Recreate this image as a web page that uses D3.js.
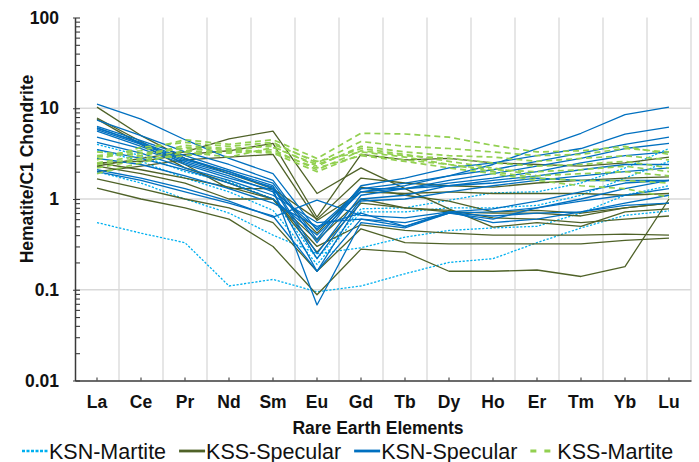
<!DOCTYPE html>
<html><head><meta charset="utf-8">
<script src="https://cdn.jsdelivr.net/npm/d3@7"></script>
<style>
html,body{margin:0;padding:0;background:#fff;}
svg{display:block;font-family:"Liberation Sans",Arial,sans-serif;}
</style></head>
<body><svg id="c" width="699" height="462"></svg>
<script>
const categories = ["La","Ce","Pr","Nd","Sm","Eu","Gd","Tb","Dy","Ho","Er","Tm","Yb","Lu"];
const yTicks = [0.01, 0.1, 1, 10, 100];
const yTickLabels = ["0.01", "0.1", "1", "10", "100"];
const seriesNames = ["KSN-Martite", "KSS-Specular", "KSN-Specular", "KSS-Martite"];

const ksnMartite = [
  [0.55,0.42,0.33,0.11,0.13,0.095,0.11,0.15,0.2,0.22,0.33,0.48,0.66,0.74],
  [4.0,3.0,2.0,1.55,1.0,0.22,0.78,0.8,0.97,1.17,1.2,1.5,2.2,3.6],
  [3.5,2.6,1.7,1.2,0.75,0.19,0.72,0.72,0.8,0.8,0.85,1.1,1.7,2.6],
  [2.0,1.5,1.0,0.7,0.4,0.25,0.29,0.38,0.45,0.48,0.5,0.7,1.1,1.4]
];
const kssSpecular = [
  [2.3,2.8,3.3,4.6,5.6,1.15,2.2,1.3,0.78,0.49,0.55,0.5,0.72,0.78],
  [2.5,2.6,3.1,3.4,4.1,0.63,3.1,2.7,2.8,2.5,2.4,2.3,2.5,2.9],
  [2.0,2.3,2.7,2.9,3.1,0.58,1.2,1.15,1.2,1.15,1.15,1.15,1.1,1.15],
  [10.3,5.0,2.8,1.9,1.3,0.6,1.7,1.5,1.4,1.35,1.5,1.6,1.7,1.75],
  [7.8,4.3,2.4,1.3,1.3,0.42,1.35,1.1,0.95,0.72,0.75,0.7,0.8,0.9],
  [7.6,4.0,2.2,1.5,1.0,0.3,0.52,0.45,0.42,0.4,0.4,0.4,0.41,0.4],
  [2.5,2.1,1.7,1.35,1.0,0.35,1.0,0.8,0.75,0.62,0.6,0.55,0.6,0.65],
  [1.67,1.3,1.0,0.8,0.55,0.16,0.47,0.33,0.32,0.32,0.32,0.32,0.35,0.37],
  [1.32,1.0,0.8,0.6,0.3,0.088,0.28,0.26,0.16,0.16,0.165,0.14,0.18,1.0],
  [2.3,1.9,1.5,1.0,1.0,0.26,0.9,0.8,0.72,0.7,0.7,0.65,0.8,0.9]
];
const ksnSpecular = [
  [11.1,7.6,4.5,2.8,1.9,0.45,1.2,1.4,1.8,2.4,3.6,5.3,8.5,10.3],
  [7.4,5.0,3.3,2.4,1.6,0.36,1.4,1.7,2.2,2.5,3.0,3.6,5.2,6.2],
  [6.3,4.4,3.0,2.1,1.5,0.33,1.3,1.5,1.8,2.1,2.6,3.2,4.0,4.8],
  [6.0,4.2,2.8,2.0,1.4,0.25,1.1,1.3,1.6,1.9,2.3,2.8,3.6,4.1],
  [5.8,4.0,2.6,1.9,1.35,0.22,1.0,1.1,1.4,1.6,1.8,2.1,2.4,2.4],
  [5.6,3.8,2.5,1.8,1.2,0.16,0.95,1.0,1.2,1.4,1.6,1.8,2.0,2.2],
  [4.2,3.2,2.2,1.6,1.1,0.55,0.6,0.55,0.7,0.65,0.7,0.72,0.85,0.9],
  [2.8,2.4,1.8,1.3,0.9,0.5,0.7,0.5,0.7,0.6,0.8,1.0,1.3,1.6],
  [2.1,1.7,1.3,0.95,0.63,0.97,0.66,0.62,0.72,0.78,0.95,1.2,1.5,1.6],
  [2.0,1.6,1.2,0.9,0.65,0.16,0.6,0.5,0.72,0.55,0.6,0.72,0.9,1.1],
  [6.1,4.1,2.7,2.0,1.3,0.068,0.55,0.48,0.7,0.72,0.8,0.95,1.1,1.3],
  [3.5,2.8,2.1,1.5,1.0,0.4,1.2,1.3,1.5,1.7,2.0,2.5,3.0,3.3],
  [4.8,3.6,2.4,1.7,1.25,0.47,1.3,1.3,1.4,1.5,1.7,1.6,1.6,1.6]
];
const kssMartite = [
  [3.0,3.4,4.5,4.0,4.5,2.8,5.3,5.2,4.8,3.9,3.3,3.4,3.8,3.1],
  [2.7,3.7,4.2,3.8,4.2,2.5,4.3,3.8,3.6,3.3,3.0,3.1,3.6,3.3],
  [3.3,3.0,3.9,3.6,3.8,2.3,3.8,3.3,3.0,2.9,2.6,2.8,3.0,2.7],
  [2.4,2.8,3.4,3.2,3.5,2.1,3.4,3.0,2.8,2.5,2.3,2.4,2.6,2.2],
  [2.2,2.7,3.0,3.4,3.2,2.0,3.1,2.7,2.4,2.1,2.0,2.1,2.3,2.0],
  [1.9,2.5,3.3,2.9,3.7,2.4,3.6,3.1,2.6,2.2,1.8,1.9,2.0,1.8],
  [2.9,3.2,3.6,3.3,4.0,2.6,3.3,2.9,2.4,2.0,1.7,1.6,1.6,1.5],
  [2.5,3.0,3.7,3.5,3.3,2.2,3.0,2.6,2.2,1.9,1.6,1.4,1.3,1.05]
];

const series = [
  {name: seriesNames[0], lines: ksnMartite, color: "#00B0F0", dash: "2.2,1.6", w: 1.3, lw: 2.6, ldash: "3,1.5"},
  {name: seriesNames[1], lines: kssSpecular, color: "#4F6228", dash: null, w: 1.3, lw: 2.8, ldash: null},
  {name: seriesNames[2], lines: ksnSpecular, color: "#0070C0", dash: null, w: 1.3, lw: 2.8, ldash: null},
  {name: seriesNames[3], lines: kssMartite, color: "#92D050", dash: "6,4", w: 1.7, lw: 2.8, ldash: "6,8"}
];

const svg = d3.select("#c");
const L = 75, R = 691, T = 17.5, B = 380.5;
const x = d3.scaleBand().domain(categories).range([L, R]).paddingInner(0).paddingOuter(0);
const xc = d => x(d) + x.bandwidth() / 2;
const y = d3.scaleLog().domain([0.01, 100]).range([B, T]);
const grid = "#d9d9d9";
const axisCol = "#3a3a3a";

// gridlines
const g = svg.append("g");
g.selectAll("line.v").data(categories).enter().append("line")
  .attr("x1", d => x(d) + x.bandwidth()).attr("x2", d => x(d) + x.bandwidth())
  .attr("y1", T).attr("y2", B).attr("stroke", grid).attr("stroke-width", 1.3);
g.selectAll("line.h").data(yTicks.filter(v => v > 0.01 && v < 100)).enter().append("line")
  .attr("x1", L).attr("x2", R).attr("y1", d => y(d)).attr("y2", d => y(d))
  .attr("stroke", grid).attr("stroke-width", 1.3);

// lines
const line = d3.line().x((d, i) => xc(categories[i])).y(d => y(d));
series.forEach(s => {
  svg.append("g").selectAll("path").data(s.lines).enter().append("path")
    .attr("d", line).attr("fill", "none").attr("stroke", s.color)
    .attr("stroke-width", s.w).attr("stroke-dasharray", s.dash)
    .attr("stroke-linejoin", "round");
});

// minor ticks
const minor = [];
for (let e = -2; e < 2; e++) for (let m = 1; m <= 9; m++) minor.push(m * Math.pow(10, e));
minor.push(100);
const minorAxis = d3.axisRight(y).tickValues(minor).tickFormat("").tickSizeInner(5).tickSizeOuter(0);
const ma = svg.append("g").attr("transform", `translate(${L},0)`).call(minorAxis);
ma.select(".domain").remove();
ma.selectAll("line").attr("stroke", axisCol).attr("stroke-width", 1.1);

// left axis
const yAxis = d3.axisLeft(y).tickValues(yTicks).tickFormat((d, i) => yTickLabels[i])
  .tickSizeInner(2).tickSizeOuter(0).tickPadding(14);
const ya = svg.append("g").attr("transform", `translate(${L},0)`).call(yAxis);
ya.select(".domain").attr("stroke", axisCol).attr("stroke-width", 1.5);
ya.selectAll("line").attr("stroke", axisCol).attr("stroke-width", 1.1);
ya.selectAll("text").attr("font-size", "17.5px").attr("font-weight", "bold")
  .attr("fill", "#111").attr("font-family", '"Liberation Sans",Arial,sans-serif');

// bottom axis
const xAxis = d3.axisBottom(x).tickSizeInner(-3).tickSizeOuter(0).tickPadding(15);
const xa = svg.append("g").attr("transform", `translate(0,${B})`).call(xAxis);
xa.select(".domain").attr("stroke", axisCol).attr("stroke-width", 1.5);
xa.selectAll("line").attr("stroke", axisCol).attr("stroke-width", 1.1);
xa.selectAll("text").attr("font-size", "17.5px").attr("font-weight", "bold")
  .attr("fill", "#111").attr("font-family", '"Liberation Sans",Arial,sans-serif');

// titles
svg.append("text").attr("x", 378).attr("y", 434).attr("text-anchor", "middle")
  .attr("font-size", "17.5px").attr("font-weight", "bold").attr("fill", "#111")
  .text("Rare Earth Elements");
svg.append("text").attr("transform", "translate(33,169) rotate(-90)").attr("text-anchor", "middle")
  .attr("font-size", "17.5px").attr("font-weight", "bold").attr("fill", "#111")
  .text("Hematite/C1 Chondrite");

// legend
let lx = 22;
const ly = 451;
series.forEach(s => {
  svg.append("line").attr("x1", lx).attr("x2", lx + 26).attr("y1", ly).attr("y2", ly)
    .attr("stroke", s.color).attr("stroke-width", s.lw).attr("stroke-dasharray", s.ldash);
  const t = svg.append("text").attr("x", lx + 27).attr("y", ly + 7.5)
    .attr("font-size", "21.5px").attr("fill", "#111").text(s.name);
  lx += 27 + t.node().getComputedTextLength() + 13;
});
</script></body></html>
